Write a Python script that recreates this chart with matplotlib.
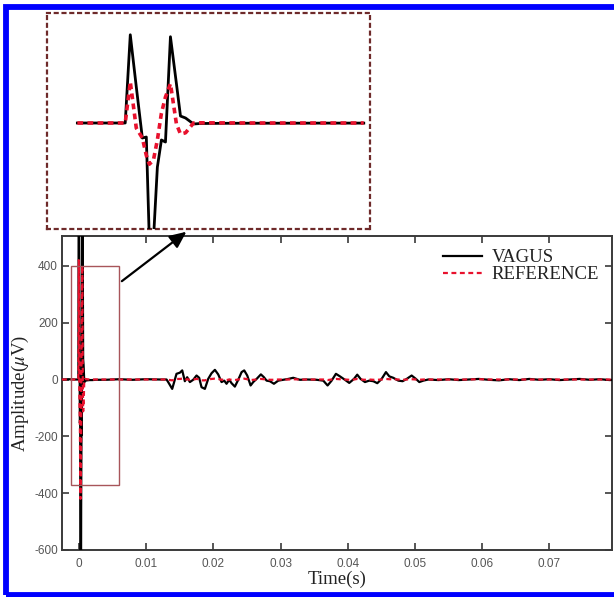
import matplotlib
matplotlib.use("Agg")
import matplotlib.pyplot as plt
import matplotlib.patches as mpatches
import numpy as np

# ---------------- data ----------------
# fine-resolution stimulus/artifact region (time in s, amplitude in uV)
spike_t = [-0.0025, -0.0015, -0.00068, -0.000065, 0.0, 0.000077, 0.000155, 0.000206,
           0.000245, 0.000297, 0.000348, 0.0004, 0.000452, 0.000516, 0.000593,
           0.000645, 0.00071, 0.000813, 0.000903, 0.0012, 0.0016, 0.0020, 0.0025, 0.0030]
spike_vagus = [0, 1, 0, 0, 900, 370, -153, -143,
               -1200, -1200, -450, -173, -194, 880, 400,
               71, 51, -10, -5, -3, -2, -2, -1, -1]
spike_ref = [0, 0, 0, 0, 420, -51, -153, -330,
             -420, -380, -173, 100, 265, 400, -10,
             -112, -100, 0, 2, 1, 0, 0, 0, 0]

# later recording (compound action potential activity)
wave_t = [0.004, 0.006, 0.008, 0.010, 0.012, 0.01305, 0.01329, 0.01389, 0.01453, 0.01503,
          0.01538, 0.01577, 0.01612, 0.01652, 0.01701, 0.01751, 0.01790, 0.01825, 0.01875,
          0.01924, 0.01974, 0.02024, 0.02073, 0.02123, 0.02163, 0.02197, 0.02237, 0.02272,
          0.02321, 0.02371, 0.02421, 0.02460, 0.02505, 0.02555, 0.02594, 0.02644, 0.02708,
          0.02753, 0.02793, 0.02842, 0.02902, 0.02966, 0.03040, 0.03115, 0.03189, 0.03288,
          0.03388, 0.03537, 0.03636, 0.03700, 0.03760, 0.03824, 0.03884, 0.03958, 0.04022,
          0.04092, 0.04141, 0.04191, 0.04256, 0.04320, 0.04380, 0.04439, 0.04504, 0.04568,
          0.04618, 0.04677, 0.04752, 0.04816, 0.04876, 0.04950, 0.05014, 0.05064, 0.05124,
          0.05198, 0.0535, 0.0550, 0.0565, 0.0580, 0.0595, 0.0610, 0.0625, 0.0640, 0.0655,
          0.0670, 0.0685, 0.0700, 0.0715, 0.0730, 0.0745, 0.0760, 0.0775, 0.0790, 0.0800]
wave_vagus = [-1, 1, -1, 1, 0, 0, -9, -33, 20, 24,
              32, -6, 8, -9, -1, 14, 6, -27, -33,
              2, 22, 34, 18, -9, -4, -15, -1, -13,
              -25, -1, 26, 32, 14, -21, -9, 2, 18,
              8, -4, -6, -15, -4, -1, 2, 6, -1,
              0, -1, -4, -21, -4, 20, 11, -1, -12,
              2, 17, 2, -9, -4, -6, -13, 2, 26,
              11, 6, -4, -6, 2, 14, 2, -9, -4,
              0, -2, 1, -2, 0, 2, -1, -3, 1, -2,
              2, -1, 1, -2, 0, 2, -1, 1, -2, 0]
wave_ref = [0, 0, 0, 0, 0, 0, -1, -3, 2, 2,
            3, -1, 1, -1, 0, 2, 1, -3, -3,
            0, 2, 3, 2, -1, 0, -2, 0, -1,
            -2, 0, 2, 3, 1, -2, -1, 0, 2,
            1, 0, -1, -1, 0, 0, 0, 1, 0,
            0, 0, 0, -2, 0, 2, 1, 0, -1,
            0, 2, 0, -1, 0, -1, -1, 0, 2,
            1, 1, 0, -1, 0, 1, 0, -1, 0,
            0, 0, 0, 0, 0, 1, 0, 0, 0, 0,
            0, 0, 0, 0, 0, 0, 0, 0, 0, 0]

xticks = [0, 0.01, 0.02, 0.03, 0.04, 0.05, 0.06, 0.07]
xticklabels = ["0", "0.01", "0.02", "0.03", "0.04", "0.05", "0.06", "0.07"]
yticks = [-600, -400, -200, 0, 200, 400]
yticklabels = ["-600", "-400", "-200", "0", "200", "400"]
labels = ["VAGUS", "REFERENCE"]

t_all = np.array(spike_t + wave_t)
vagus_all = np.array(spike_vagus + wave_vagus)
ref_all = np.array(spike_ref + wave_ref)

# ---------------- style ----------------
plt.rcParams["axes.unicode_minus"] = False
plt.rcParams["mathtext.fontset"] = "stix"
SERIF = "Liberation Serif"
SANS = "Liberation Sans"
RED = "#e8112d"
SPINE = "#3a3a3a"

W, H = 614, 597
fig = plt.figure(figsize=(W / 100, H / 100), dpi=100)

def fx(px):
    return px / W

def fy(py):
    return 1 - py / H

# main axes
ax_w_px = 612 - 62
ax = fig.add_axes([fx(62), fy(550), fx(612) - fx(62), fy(236) - fy(550)])
ax.plot(t_all, vagus_all, color="black", lw=1.6, label=labels[0], zorder=3)
ax.plot(t_all, ref_all, color=RED, lw=1.6, ls=(0, (2.2, 1.6)), label=labels[1], zorder=4)
ax.set_xlim(-0.0025, 0.0793)
ax.set_ylim(-600, 505)
ax.set_xticks(xticks)
ax.set_xticklabels(xticklabels)
ax.set_yticks(yticks)
ax.set_yticklabels(yticklabels)
ax.tick_params(direction="in", length=5, width=1.2, colors=SPINE, labelcolor="#555555",
               labelsize=8.5, top=True, right=True)
ax.tick_params(axis="x", pad=6)
ax.tick_params(axis="y", pad=3)
for lab in ax.get_xticklabels() + ax.get_yticklabels():
    lab.set_family(SANS)
for s in ax.spines.values():
    s.set_color(SPINE)
    s.set_linewidth(1.4)
ax.set_xlabel("Time(s)", family=SERIF, fontsize=13.5, color="#222222", labelpad=0)
ax.set_ylabel(r"Amplitude($\mu$V)", family=SERIF, fontsize=13.5, color="#222222")
ax.yaxis.set_label_coords((31 - 62) / ax_w_px, 0.5)

leg = ax.legend(loc="upper right", bbox_to_anchor=(1.0, 1.0), frameon=False,
                prop={"family": SERIF, "size": 13.5}, handlelength=2.1,
                handletextpad=0.5, labelspacing=0.0, borderaxespad=0.3)
for txt in leg.get_texts():
    txt.set_color("#222222")

# zoom rectangle in main axes
rect = mpatches.Rectangle((-0.0011, -370), 0.00705, 770, fill=False,
                          edgecolor="#a8555a", lw=1.0, zorder=5)
ax.add_patch(rect)

# arrow from rectangle to inset
ax.annotate("", xy=(0.0160, 520), xytext=(0.0064, 346),
            arrowprops=dict(arrowstyle="-|>,head_length=1.0,head_width=0.45",
                            color="black", lw=1.6, shrinkA=0, shrinkB=0),
            annotation_clip=False, zorder=6)

# inset axes
ins = fig.add_axes([fx(47), fy(229), fx(370) - fx(47), fy(13) - fy(229)])
mask = (t_all >= -0.0007) & (t_all <= 0.0031)
ins.plot(t_all[mask], vagus_all[mask], color="black", lw=2.0, zorder=3)
ins.plot(t_all[mask], ref_all[mask], color=RED, lw=2.6, ls=(0, (1.6, 1.2)), zorder=4)
ins.set_xlim(-0.00107, 0.00308)
ins.set_ylim(-1081, 1122)
ins.set_xticks([])
ins.set_yticks([])
for s in ins.spines.values():
    s.set_color("#6e2a2a")
    s.set_linewidth(1.6)
    s.set_linestyle((0, (1.3, 2.2)))

# blue frame around the figure
frame = mpatches.Rectangle((fx(6), fy(594.5)), 1.2, fy(7) - fy(594.5), transform=fig.transFigure,
                           fill=False, edgecolor="#0000ff", lw=4.2, clip_on=False)
fig.patches.append(frame)

fig.savefig("out.png", dpi=100, facecolor="white")
